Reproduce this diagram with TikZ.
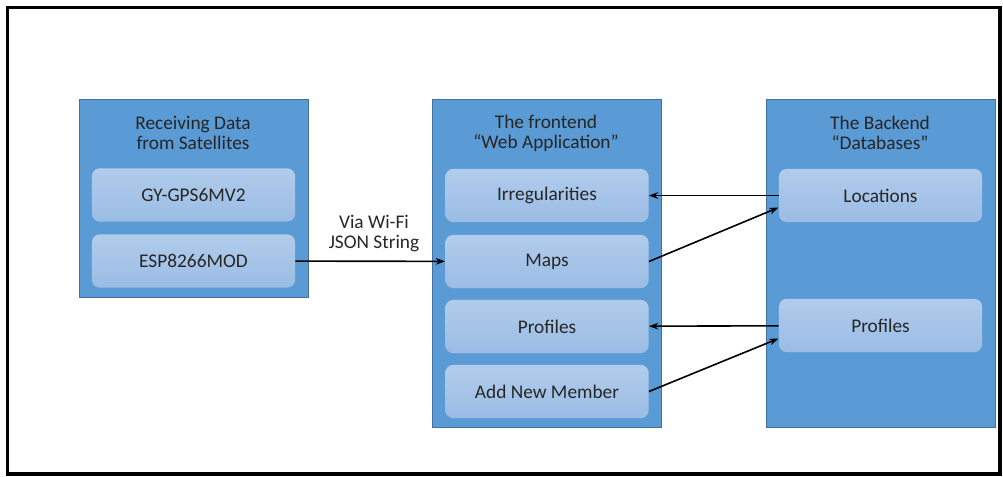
\documentclass[tikz,border=0pt]{standalone}
\usepackage{fontspec}
\setmainfont{Carlito}
\usepackage{tikz}
\usetikzlibrary{arrows.meta,positioning,calc}

\definecolor{boxblue}{HTML}{5B9BD5}
\definecolor{boxline}{HTML}{41719C}
\definecolor{itemtop}{HTML}{B1CCEB}
\definecolor{itembot}{HTML}{9ABCE4}
\definecolor{txt}{HTML}{262626}

\tikzset{
  group/.style={rectangle,draw=boxline,fill=boxblue,line width=0.6pt,
    minimum width=171.75pt,anchor=north west,inner sep=0pt},
  item/.style={rectangle,rounded corners=6pt,top color=itemtop,bottom color=itembot,
    draw=none,minimum width=152.5pt,minimum height=40pt,text=txt,
    font=\fontsize{14.5}{16}\selectfont},
  title/.style={align=center,text=txt,font=\fontsize{14.5}{15}\selectfont},
  link/.style={-{Stealth[length=7pt,width=5pt]},line width=1.2pt,black}
}

\begin{document}
\begin{tikzpicture}[x=0.75pt,y=-0.75pt]
\useasboundingbox (0,0) rectangle (1003,477);
\draw[line width=2.4pt] (7.5,7.5) rectangle (1000,474);

\node (sat) at (79,99)[group,minimum height=148.5pt] {};
\node (front) at (432,99)[group,minimum height=246pt] {};
\node (back) at (766,99)[group,minimum height=246pt] {};

\node (satT) at (193,133)[title] {Receiving Data\\from Satellites};
\node (frontT) at (546,133)[title] {The frontend\\``Web Application''};
\node (backT) at (880,133)[title] {The Backend\\``Databases''};

\node (gps) at (193.5,195)[item] {GY-GPS6MV2};
\node (esp) at (193.5,261)[item] {ESP8266MOD};

\node (irr) at (547,195.5)[item] {Irregularities};
\node (maps) at (547,261.5)[item] {Maps};
\node (prof) at (547,326.5)[item] {Profiles};
\node (add) at (547,391.5)[item] {Add New Member};

\node (loc) at (880.5,195.5)[item] {Locations};
\node (dbprof) at (880.5,325.5)[item] {Profiles};

\node (wifi) at (374,234)[title] {Via Wi-Fi\\JSON String};

\draw[link] (esp) to (maps);
\draw[link] (loc) to (irr);
\draw[link] (maps.east) to ($(loc.west)+(0,12)$);
\draw[link] (dbprof) to (prof);
\draw[link] (add.east) to ($(dbprof.west)+(0,13)$);

\end{tikzpicture}
\end{document}
